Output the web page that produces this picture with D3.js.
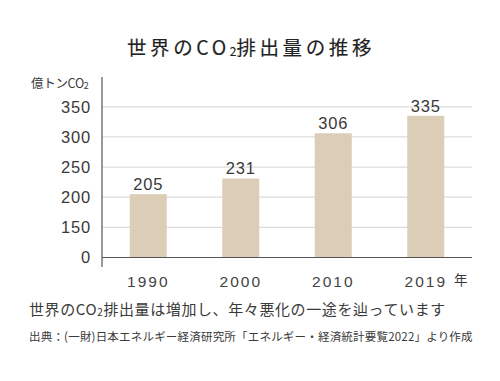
<!DOCTYPE html>
<html>
<head>
<meta charset="utf-8">
<script src="https://cdn.jsdelivr.net/npm/d3@7"></script>
<style>
  body { margin: 0; background: #fff; }
  text { font-family: "Liberation Sans", "Noto Sans CJK JP", sans-serif; fill: #3a3a3a; }
  .jp { font-family: "Noto Sans CJK JP", sans-serif; }
</style>
</head>
<body>
<div id="chart"></div>
<script>
// data
var years = ["1990", "2000", "2010", "2019"];
var emissions = [205, 231, 306, 335];
var yTicks = [0, 150, 200, 250, 300, 350];

var svgWidth = 500;
var svgHeight = 381;

var svg = d3.select("#chart")
  .append("svg")
  .attr("width", svgWidth)
  .attr("height", svgHeight);

// axis is broken between 0 and 150, so the scale is piecewise
var yScale = d3.scaleLinear()
  .domain([0, 150, 350])
  .range([257.5, 227.3, 106.8]);

var xScale = d3.scaleBand()
  .domain(years)
  .range([102, 472])
  .paddingInner(0.6)
  .paddingOuter(0.3);

// gridlines
svg.append("g")
  .selectAll("line")
  .data(yTicks.slice(1))
  .enter()
  .append("line")
  .attr("x1", 102)
  .attr("x2", 472)
  .attr("y1", d => yScale(d))
  .attr("y2", d => yScale(d))
  .attr("stroke", "#dcdcdc")
  .attr("stroke-width", 1.2);

// bars
svg.append("g")
  .selectAll("rect")
  .data(emissions)
  .enter()
  .append("rect")
  .attr("x", (d, i) => xScale(years[i]))
  .attr("y", d => yScale(d))
  .attr("width", xScale.bandwidth())
  .attr("height", d => yScale(0) - yScale(d))
  .attr("fill", "#dbcdb6");

// value labels
svg.append("g")
  .selectAll("text")
  .data(emissions)
  .enter()
  .append("text")
  .attr("x", (d, i) => xScale(years[i]) + xScale.bandwidth() / 2)
  .attr("y", d => yScale(d) - 4)
  .attr("text-anchor", "middle")
  .style("font-size", "16.5px")
  .style("letter-spacing", "0.8px")
  .text(d => d);

// y axis
var leftAxis = d3.axisLeft(yScale)
  .tickValues(yTicks)
  .tickSize(0)
  .tickPadding(11);

var yAxisG = svg.append("g")
  .attr("transform", "translate(102,0)")
  .call(leftAxis);
yAxisG.select(".domain").remove();
yAxisG.selectAll("text")
  .style("font-size", "16.5px")
  .style("letter-spacing", "0.8px")
  .style("font-family", "Liberation Sans")
  .style("fill", "#3a3a3a");

svg.append("line")
  .attr("x1", 102).attr("x2", 102)
  .attr("y1", 77).attr("y2", 267)
  .attr("stroke", "#555")
  .attr("stroke-width", 1.2);

// x axis
var bottomAxis = d3.axisBottom(xScale)
  .tickSize(0)
  .tickPadding(18);

var xAxisG = svg.append("g")
  .attr("transform", `translate(0, ${yScale(0)})`)
  .call(bottomAxis);
xAxisG.select(".domain").remove();
xAxisG.selectAll("text")
  .style("font-size", "15.5px")
  .style("letter-spacing", "2px")
  .style("font-family", "Liberation Sans")
  .style("fill", "#444");

svg.append("line")
  .attr("x1", 102).attr("x2", 472)
  .attr("y1", yScale(0)).attr("y2", yScale(0))
  .attr("stroke", "#555")
  .attr("stroke-width", 1.2);

svg.append("text")
  .attr("class", "jp")
  .attr("x", 454)
  .attr("y", 285)
  .style("font-size", "13.5px")
  .text("年");

// unit label
var unit = svg.append("text")
  .attr("class", "jp")
  .attr("x", 31)
  .attr("y", 88)
  .style("font-size", "12.5px")
  .style("letter-spacing", "-0.3px");
unit.append("tspan").text("億トンCO");
unit.append("tspan").attr("dy", 1).style("font-size", "9px").text("2");

// title
var title = svg.append("text")
  .attr("class", "jp")
  .attr("x", 251)
  .attr("y", 55)
  .attr("text-anchor", "middle")
  .style("font-size", "19.5px")
  .style("fill", "#222")
  .style("stroke", "#222")
  .style("stroke-width", "0.15px")
  .style("letter-spacing", "3.6px");
title.append("tspan").text("世界のCO");
title.append("tspan").attr("dy", 1).style("font-size", "12px").style("letter-spacing", "0px").text("2");
title.append("tspan").attr("dy", -1).text("排出量の推移");

// caption
var caption = svg.append("text")
  .attr("class", "jp")
  .attr("x", 29)
  .attr("y", 315)
  .style("font-size", "15px")
  .style("letter-spacing", "0.6px");
caption.append("tspan").text("世界のCO");
caption.append("tspan").attr("dy", 1).style("font-size", "10px").text("2");
caption.append("tspan").attr("dy", -1).text("排出量は増加し、年々悪化の一途を辿っています");

svg.append("text")
  .attr("class", "jp")
  .attr("x", 29)
  .attr("y", 341)
  .style("font-size", "11.5px")
  .style("letter-spacing", "0.2px")
  .text("出典：(一財)日本エネルギー経済研究所「エネルギー・経済統計要覧2022」より作成");
</script>
</body>
</html>
